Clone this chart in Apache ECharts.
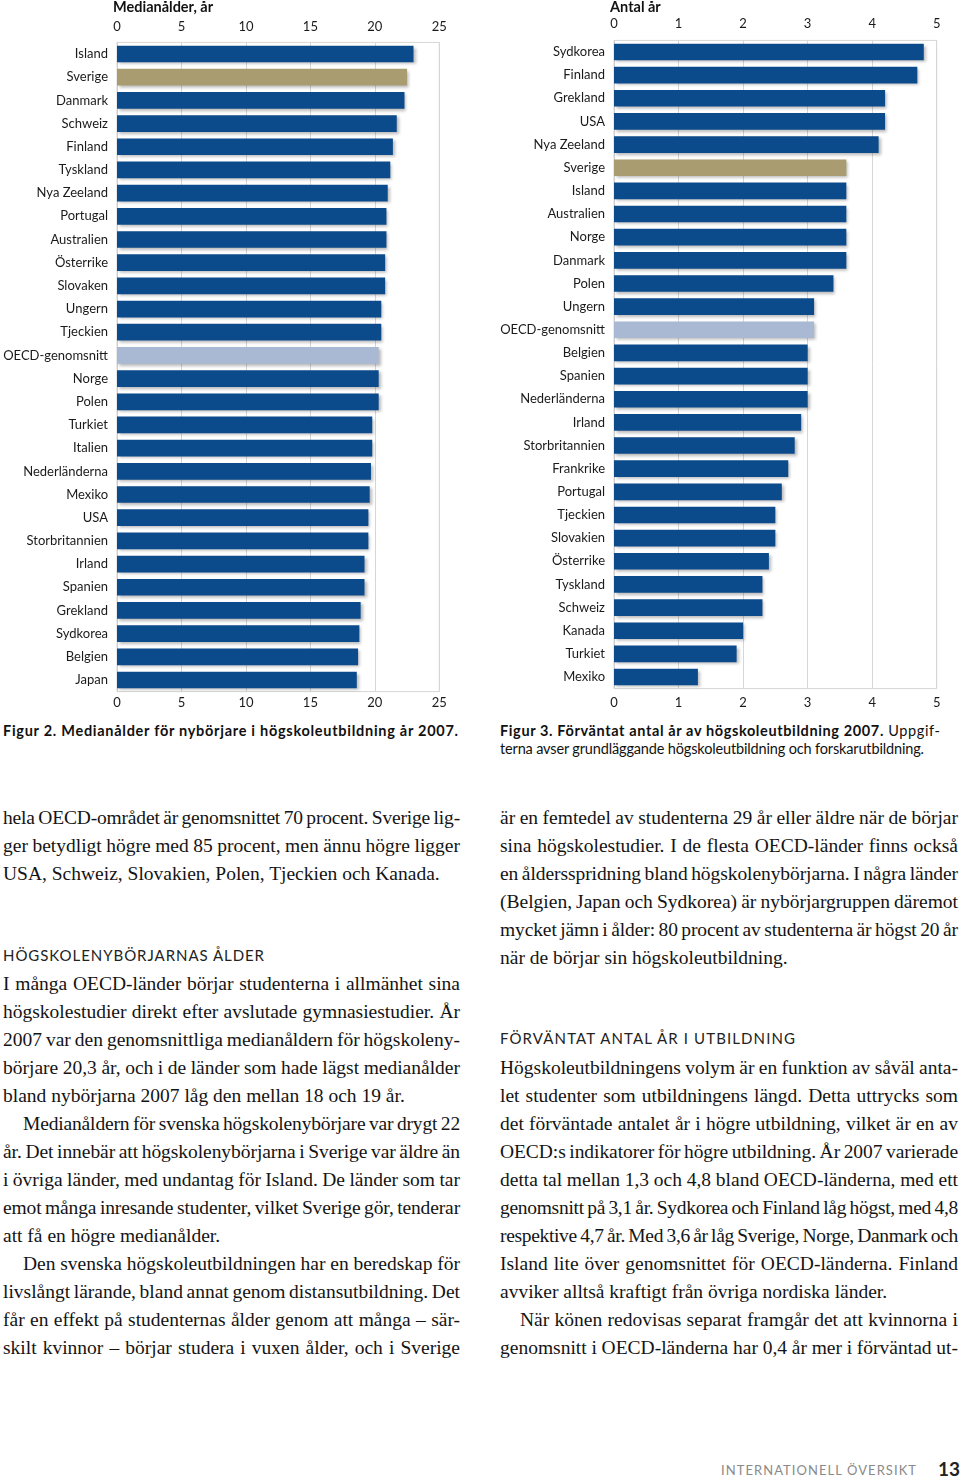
<!DOCTYPE html>
<html><head><meta charset="utf-8">
<script src="https://cdn.jsdelivr.net/npm/echarts@6/dist/echarts.min.js"></script>
<style>
html,body{margin:0;padding:0;background:#fff}
body{width:960px;height:1478px;position:relative;overflow:hidden}
#chart{position:absolute;left:0;top:0;width:960px;height:720px}
.cap{position:absolute;font-family:Lato,'Open Sans',sans-serif;font-size:14.5px;line-height:18px;color:#111;white-space:nowrap}
.ln{position:absolute;white-space:nowrap;font-family:'Liberation Serif',serif;font-size:19.5px;line-height:28px;color:#141414}
.hd{position:absolute;font-family:Lato,sans-serif;font-size:15px;line-height:20px;color:#222;white-space:nowrap}
.ft{position:absolute;font-family:Lato,sans-serif;white-space:nowrap}
</style></head>
<body>
<div id="chart"></div>
<script>
// ---- data ----
const countriesAge = ['Island','Sverige','Danmark','Schweiz','Finland','Tyskland','Nya Zeeland','Portugal','Australien','Österrike','Slovaken','Ungern','Tjeckien','OECD-genomsnitt','Norge','Polen','Turkiet','Italien','Nederländerna','Mexiko','USA','Storbritannien','Irland','Spanien','Grekland','Sydkorea','Belgien','Japan'];
const valuesAge = [23.0,22.5,22.3,21.7,21.4,21.2,21.0,20.9,20.9,20.8,20.8,20.5,20.5,20.3,20.3,20.3,19.8,19.8,19.7,19.6,19.5,19.5,19.2,19.2,18.9,18.8,18.7,18.6];
const ticksAge = [0,5,10,15,20,25];

const countriesYears = ['Sydkorea','Finland','Grekland','USA','Nya Zeeland','Sverige','Island','Australien','Norge','Danmark','Polen','Ungern','OECD-genomsnitt','Belgien','Spanien','Nederländerna','Irland','Storbritannien','Frankrike','Portugal','Tjeckien','Slovakien','Österrike','Tyskland','Schweiz','Kanada','Turkiet','Mexiko'];
const valuesYears = [4.8,4.7,4.2,4.2,4.1,3.6,3.6,3.6,3.6,3.6,3.4,3.1,3.1,3.0,3.0,3.0,2.9,2.8,2.7,2.6,2.5,2.5,2.4,2.3,2.3,2.0,1.9,1.3];
const ticksYears = [0,1,2,3,4,5];

const titleAge = 'Medianålder, år';
const titleYears = 'Antal år';

// ---- styling ----
const C_BAR = '#0c4b8b', C_SWE = '#a99c70', C_OECD = '#a9b8d3';
const SANS = 'Lato';
function colorFor(name){ return name==='Sverige'?C_SWE:(name==='OECD-genomsnitt'?C_OECD:C_BAR); }
function barData(names, vals){
  return vals.map((v,i)=>({value:v,itemStyle:{color:colorFor(names[i])}}));
}
const lbl = {fontFamily:SANS,fontSize:13,color:'#1a1a1a'};
function valAxis(grid, ticks, pos, margin, split){
  return {gridIndex:grid,type:'value',position:pos,min:ticks[0],max:ticks[ticks.length-1],
    interval:ticks[1]-ticks[0],axisLine:{show:false},axisTick:{show:false},
    splitLine:{show:split,lineStyle:{color:'#d6d6d6',width:1}},
    axisLabel:Object.assign({margin:margin,showMinLabel:true,showMaxLabel:true},lbl)};
}
function catAxis(grid, names){
  return {gridIndex:grid,type:'category',data:names,inverse:true,
    axisTick:{show:false},axisLine:{show:true,lineStyle:{color:'#cfcfcf'}},
    axisLabel:Object.assign({margin:9,interval:0},lbl)};
}
const shadow = {shadowBlur:3,shadowColor:'rgba(0,0,0,0.28)',shadowOffsetX:2,shadowOffsetY:2};
const titleStyle = {fontFamily:SANS,fontSize:14.5,fontWeight:'bold',color:'#111'};

const chart = echarts.init(document.getElementById('chart'),null,{renderer:'canvas'});
chart.setOption({
  animation:false,
  title:[
    {text:titleAge,left:113,top:0,padding:0,textStyle:titleStyle},
    {text:titleYears,left:610,top:0,padding:0,textStyle:titleStyle}
  ],
  grid:[
    {left:117,top:42.4,width:322.3,height:649.2,show:true,borderColor:'#d6d6d6',borderWidth:1,containLabel:false},
    {left:614,top:40.4,width:322.7,height:648.2,show:true,borderColor:'#d6d6d6',borderWidth:1,containLabel:false}
  ],
  xAxis:[
    valAxis(0,ticksAge,'bottom',5,true),
    valAxis(0,ticksAge,'top',9,false),
    valAxis(1,ticksYears,'bottom',8,true),
    valAxis(1,ticksYears,'top',10,false)
  ],
  yAxis:[catAxis(0,countriesAge),catAxis(1,countriesYears)],
  series:[
    {type:'bar',xAxisIndex:0,yAxisIndex:0,data:barData(countriesAge,valuesAge),barCategoryGap:'28%',itemStyle:shadow},
    {type:'bar',xAxisIndex:2,yAxisIndex:1,data:barData(countriesYears,valuesYears),barCategoryGap:'28%',itemStyle:shadow}
  ]
});

// ---- page text ----
function fitLetter(el, target){
  const w = el.getBoundingClientRect().width;
  const n = el.textContent.length;
  if(n>1) el.style.letterSpacing = ((target-w)/(n-1))+'px';
}
function addDiv(cls, x, y, html){
  const d=document.createElement('div'); d.className=cls; d.style.left=x+'px'; d.style.top=y+'px';
  d.innerHTML=html; document.body.appendChild(d); return d;
}
// captions
const c1 = addDiv('cap',3,722,'<b>Figur 2. Medianålder för nybörjare i högskoleutbildning år 2007.</b>');
fitLetter(c1, 455);
const c2 = addDiv('cap',500,722,'<b>Figur 3. Förväntat antal år av högskoleutbildning 2007.</b> Uppgif-');
fitLetter(c2, 440);
const c3 = addDiv('cap',500,740,'terna avser grundläggande högskoleutbildning och forskarutbildning.');
fitLetter(c3, 424);

function addLines(x, w, y0, lines){
  lines.forEach((l,i)=>{
    const ind = l[2]||0;
    const d=document.createElement('div'); d.className='ln';
    d.style.left=(x+ind)+'px'; d.style.top=(y0+28*i-15)+'px';
    const s=document.createElement('span'); s.textContent=l[0]; d.appendChild(s);
    document.body.appendChild(d);
    const nat=s.getBoundingClientRect().width;
    const sp=(l[0].match(/ /g)||[]).length;
    const target=w-ind;
    if(l[1] && sp>0){
      let extra=target-nat;
      if(extra/sp < -1.2){
        const ls=(extra+1.2*sp)/(l[0].length-1);
        s.style.letterSpacing=ls+'px';
        const nat2=s.getBoundingClientRect().width;
        extra=target-nat2;
      }
      s.style.wordSpacing=(extra/sp)+'px';
    } else if(nat>target){
      s.style.letterSpacing=((target-nat)/(l[0].length-1))+'px';
    }
  });
}
addLines(3,457,819,[
  ['hela OECD-området är genomsnittet 70 procent. Sverige lig-',1],
  ['ger betydligt högre med 85 procent, men ännu högre ligger',1],
  ['USA, Schweiz, Slovakien, Polen, Tjeckien och Kanada.',0]
]);
addLines(3,457,985,[
  ['I många OECD-länder börjar studenterna i allmänhet sina',1],
  ['högskolestudier direkt efter avslutade gymnasiestudier. År',1],
  ['2007 var den genomsnittliga medianåldern för högskoleny-',1],
  ['börjare 20,3 år, och i de länder som hade lägst medianålder',1],
  ['bland nybörjarna 2007 låg den mellan 18 och 19 år.',0],
  ['Medianåldern för svenska högskolenybörjare var drygt 22',1,20],
  ['år. Det innebär att högskolenybörjarna i Sverige var äldre än',1],
  ['i övriga länder, med undantag för Island. De länder som tar',1],
  ['emot många inresande studenter, vilket Sverige gör, tenderar',1],
  ['att få en högre medianålder.',0],
  ['Den svenska högskoleutbildningen har en beredskap för',1,20],
  ['livslångt lärande, bland annat genom distansutbildning. Det',1],
  ['får en effekt på studenternas ålder genom att många – sär-',1],
  ['skilt kvinnor – börjar studera i vuxen ålder, och i Sverige',1]
]);
addLines(500,458,819,[
  ['är en femtedel av studenterna 29 år eller äldre när de börjar',1],
  ['sina högskolestudier. I de flesta OECD-länder finns också',1],
  ['en åldersspridning bland högskolenybörjarna. I några länder',1],
  ['(Belgien, Japan och Sydkorea) är nybörjargruppen däremot',1],
  ['mycket jämn i ålder: 80 procent av studenterna är högst 20 år',1],
  ['när de börjar sin högskoleutbildning.',0]
]);
addLines(500,458,1069,[
  ['Högskoleutbildningens volym är en funktion av såväl anta-',1],
  ['let studenter som utbildningens längd. Detta uttrycks som',1],
  ['det förväntade antalet år i högre utbildning, vilket är en av',1],
  ['OECD:s indikatorer för högre utbildning. År 2007 varierade',1],
  ['detta tal mellan 1,3 och 4,8 bland OECD-länderna, med ett',1],
  ['genomsnitt på 3,1 år. Sydkorea och Finland låg högst, med 4,8',1],
  ['respektive 4,7 år. Med 3,6 år låg Sverige, Norge, Danmark och',1],
  ['Island lite över genomsnittet för OECD-länderna. Finland',1],
  ['avviker alltså kraftigt från övriga nordiska länder.',0],
  ['När könen redovisas separat framgår det att kvinnorna i',1,20],
  ['genomsnitt i OECD-länderna har 0,4 år mer i förväntad ut-',1]
]);
// headings
const h1 = addDiv('hd',3,945,'HÖGSKOLENYBÖRJARNAS ÅLDER'); fitLetter(h1,261);
const h2 = addDiv('hd',500,1028,'FÖRVÄNTAT ANTAL ÅR I UTBILDNING'); fitLetter(h2,295);
// footer
const f1 = addDiv('ft',721,1461,'INTERNATIONELL ÖVERSIKT');
f1.style.fontSize='13px'; f1.style.color='#8a8a8a'; f1.style.lineHeight='18px'; fitLetter(f1,195);
const f2 = addDiv('ft',938,1458,'13');
f2.style.fontSize='19px'; f2.style.fontWeight='bold'; f2.style.color='#222'; f2.style.lineHeight='22px';
</script>
</body></html>
